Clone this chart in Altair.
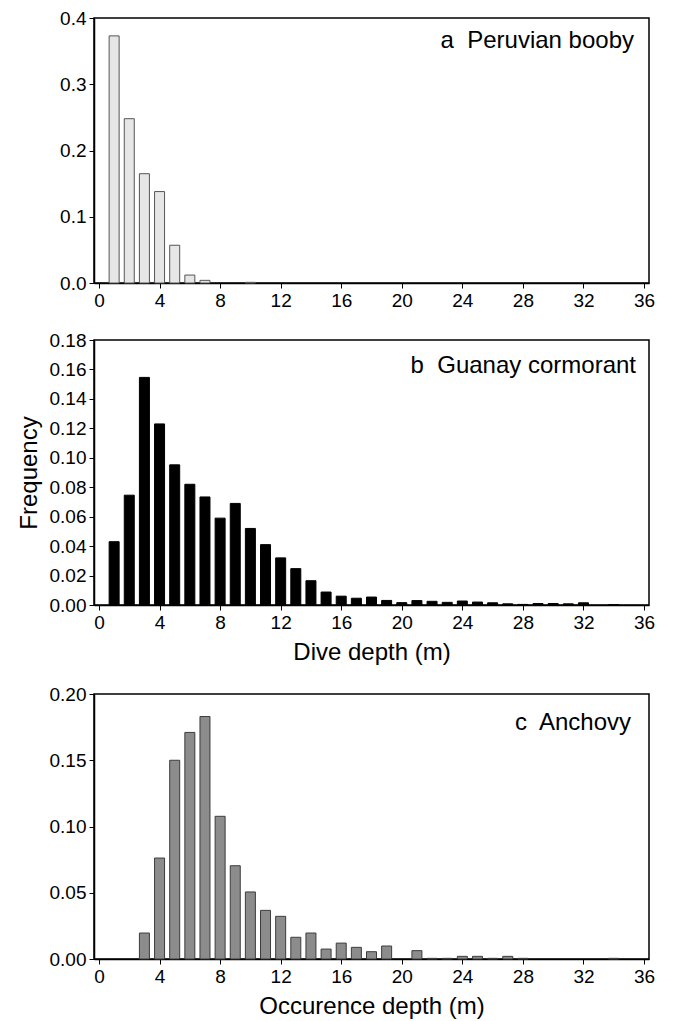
import altair as alt
import pandas as pd

FONT = "Liberation Sans"

# Panel a: Peruvian booby dive depths
booby_depth = [1, 2, 3, 4, 5, 6, 7, 10]
booby_freq = [0.373, 0.248, 0.165, 0.138, 0.057, 0.012, 0.004, 0.001]

# Panel b: Guanay cormorant dive depths
cormorant_depth = list(range(1, 33)) + [34]
cormorant_freq = [0.043, 0.0746, 0.1546, 0.123, 0.0952, 0.082, 0.0734, 0.059,
                  0.069, 0.052, 0.041, 0.032, 0.0247, 0.0165, 0.0088, 0.006,
                  0.0046, 0.0054, 0.0031, 0.0016, 0.003, 0.0025, 0.0018, 0.0027,
                  0.002, 0.0015, 0.0008, 0.0004, 0.001, 0.001, 0.0008, 0.0015,
                  0.0002]

# Panel c: Anchovy occurrence depths
anchovy_depth = [3, 4, 5, 6, 7, 8, 9, 10, 11, 12, 13, 14, 15, 16, 17, 18, 19,
                 21, 22, 23, 24, 25, 26, 27, 28, 34]
anchovy_freq = [0.0196, 0.0762, 0.150, 0.171, 0.183, 0.1077, 0.0704, 0.0506,
                0.0367, 0.0322, 0.0164, 0.0196, 0.0075, 0.012, 0.0088, 0.0055,
                0.0098, 0.0063, 0.0005, 0.0005, 0.002, 0.002, 0.0005, 0.002,
                0.0005, 0.0005]

x_ticks = list(range(0, 37, 4))


def panel(depth, freq, fill, stroke, ymax, yvals, fmt, label, label_x, label_y,
          xtitle=None, ytitle=None):
    df = pd.DataFrame({"depth": depth, "freq": freq})
    x = alt.X("depth:Q",
              scale=alt.Scale(domain=[0, 36], nice=False, zero=True),
              axis=alt.Axis(values=x_ticks, title=xtitle, labelFlush=False,
                            format="d"))
    y = alt.Y("freq:Q",
              scale=alt.Scale(domain=[0, ymax], nice=False),
              axis=alt.Axis(values=yvals, format=fmt, title=ytitle))
    bars = alt.Chart(df).mark_bar(size=10, fill=fill, stroke=stroke,
                                  strokeWidth=1).encode(x=x, y=y)
    text = alt.Chart(pd.DataFrame({"t": [label]})).mark_text(
        align="right", baseline="alphabetic", font=FONT, fontSize=24,
        color="black").encode(text="t:N", x=alt.value(label_x),
                              y=alt.value(label_y))
    return alt.layer(bars, text).properties(width=555, height=265)


pa = panel(booby_depth, booby_freq, "#e6e6e6", "#555555", 0.4,
           [0.0, 0.1, 0.2, 0.3, 0.4], ".1f", "a\u00a0 Peruvian booby", 540, 30)
pb = panel(cormorant_depth, cormorant_freq, "black", "black", 0.18,
           [round(i * 0.02, 2) for i in range(10)], ".2f",
           "b\u00a0 Guanay cormorant", 542, 33,
           xtitle="Dive depth (m)", ytitle="Frequency")
pc = panel(anchovy_depth, anchovy_freq, "#8c8c8c", "#3c3c3c", 0.20,
           [0.0, 0.05, 0.10, 0.15, 0.20], ".2f", "c\u00a0 Anchovy", 537, 36,
           xtitle="Occurence depth (m)")

chart = alt.vconcat(pa, pb, pc, spacing=19).properties(
    padding={"left": 8, "top": 0, "right": 5, "bottom": 5}
).configure_axis(
    labelFont=FONT, labelFontSize=19, labelColor="black",
    titleFont=FONT, titleFontSize=24, titleFontWeight="normal",
    titleColor="black", domainColor="black", domainWidth=1.5,
    tickColor="black", tickWidth=1, tickSize=5, labelPadding=3,
    titlePadding=8, grid=False
).configure_view(stroke="black", strokeWidth=1.5)

chart.save("out.html", embed_options={"renderer": "svg", "actions": False})
